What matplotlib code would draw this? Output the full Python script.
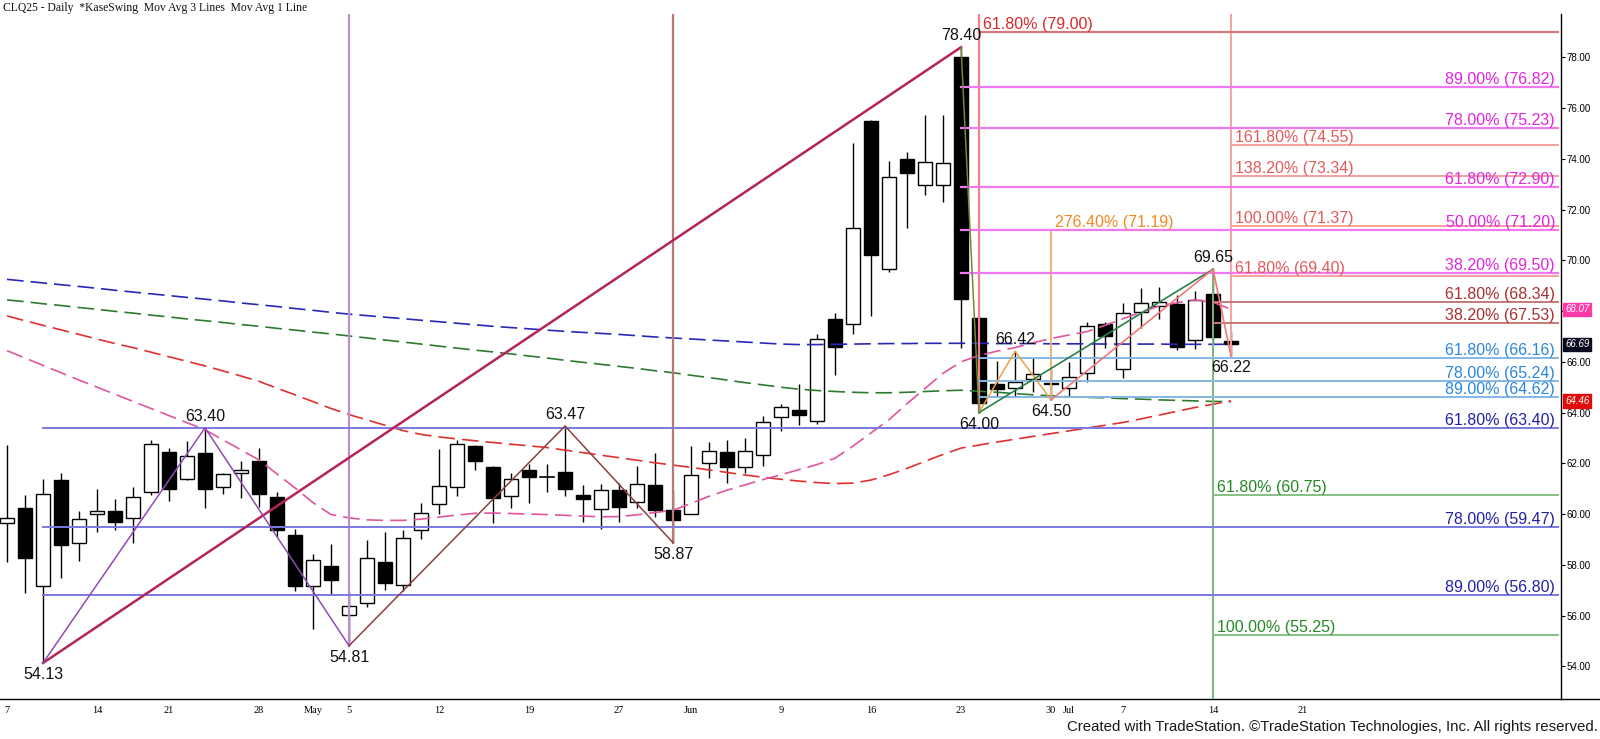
import numpy as np
import matplotlib
matplotlib.use("Agg")
import matplotlib.pyplot as plt
from matplotlib.lines import Line2D

plt.rcParams['lines.scale_dashes'] = False

# daily bars, CLQ25 (Apr 7 .. Jul 15)
dates = ["Apr 7", "Apr 8", "Apr 9", "Apr 10", "Apr 11", "Apr 14", "Apr 15", "Apr 16", "Apr 17",
         "Apr 21", "Apr 22", "Apr 23", "Apr 24", "Apr 25", "Apr 28", "Apr 29", "Apr 30", "May 1",
         "May 2", "May 5", "May 6", "May 7", "May 8", "May 9", "May 12", "May 13", "May 14",
         "May 15", "May 16", "May 19", "May 20", "May 21", "May 22", "May 23", "May 27", "May 28",
         "May 29", "May 30", "Jun 2", "Jun 3", "Jun 4", "Jun 5", "Jun 6", "Jun 9", "Jun 10",
         "Jun 11", "Jun 12", "Jun 13", "Jun 16", "Jun 17", "Jun 18", "Jun 19", "Jun 20", "Jun 23",
         "Jun 24", "Jun 25", "Jun 26", "Jun 27", "Jun 30", "Jul 1", "Jul 2", "Jul 3", "Jul 7",
         "Jul 8", "Jul 9", "Jul 10", "Jul 11", "Jul 14", "Jul 15"]
opens = [59.66, 60.23, 57.16, 61.34, 58.85, 60.01, 60.13, 59.85, 60.85, 62.43, 61.39, 62.39,
         61.05, 61.61, 62.09, 60.69, 59.19, 57.16, 57.95, 56.01, 56.48, 58.11, 57.20, 59.38,
         60.41, 61.05, 62.69, 61.84, 60.71, 61.73, 61.46, 61.64, 60.77, 60.21, 60.93, 60.49,
         61.16, 60.17, 60.01, 62.00, 62.45, 61.84, 62.32, 63.82, 64.11, 63.66, 67.68, 67.49,
         75.49, 69.65, 73.98, 72.96, 72.96, 78.01, 67.71, 65.11, 64.96, 65.31, 65.18, 64.96,
         65.55, 67.48, 65.72, 67.96, 68.20, 68.27, 66.86, 68.67, 66.83]
highs = [62.73, 60.77, 61.38, 61.60, 60.11, 60.98, 60.61, 61.07, 62.91, 62.59, 62.88, 63.40,
         61.60, 62.09, 62.59, 60.86, 59.42, 58.43, 58.80, 56.93, 58.96, 59.31, 59.38, 60.45,
         62.57, 62.92, 62.73, 61.89, 61.61, 61.98, 61.97, 63.47, 61.16, 61.19, 61.23, 61.88,
         62.41, 60.94, 62.67, 62.83, 62.91, 62.99, 63.88, 64.35, 65.11, 67.10, 67.91, 74.61,
         75.55, 73.90, 74.27, 75.73, 75.73, 78.40, 67.80, 66.03, 66.42, 66.14, 65.70, 65.98,
         67.56, 67.56, 68.31, 68.92, 68.94, 68.63, 68.79, 69.65, 67.16]
lows = [58.10, 56.88, 54.13, 57.47, 58.16, 59.29, 59.39, 58.85, 60.74, 60.52, 61.36, 60.24,
        60.79, 60.65, 60.28, 59.09, 56.95, 55.45, 56.79, 54.81, 56.35, 57.01, 56.95, 59.01,
        60.00, 60.71, 61.75, 59.64, 60.24, 60.45, 60.87, 60.71, 59.68, 59.41, 59.68, 60.25,
        59.88, 58.87, 60.01, 61.44, 61.23, 61.60, 61.91, 63.28, 63.51, 63.53, 65.48, 67.08,
        67.82, 69.55, 71.29, 72.59, 72.31, 66.56, 64.00, 64.62, 64.62, 64.82, 64.50, 64.66,
        65.22, 66.53, 65.37, 67.32, 67.68, 66.47, 66.49, 66.74, 66.22]
closes = [59.85, 58.27, 60.81, 58.77, 59.82, 60.13, 59.68, 60.69, 62.75, 60.99, 62.28, 60.99,
          61.56, 61.72, 60.79, 59.37, 57.16, 58.19, 57.42, 56.39, 58.27, 57.30, 59.06, 60.04,
          61.09, 62.75, 62.10, 60.64, 61.40, 61.47, 61.48, 60.99, 60.60, 60.93, 60.28, 61.20,
          60.16, 59.78, 61.52, 62.47, 61.87, 62.47, 63.61, 64.22, 63.90, 66.89, 66.60, 71.26,
          70.21, 73.27, 73.45, 73.86, 73.82, 68.48, 64.36, 64.92, 65.22, 65.51, 65.11, 65.41,
          67.42, 67.00, 67.91, 68.31, 68.37, 66.57, 68.45, 66.97, 66.69]

# moving averages (one value per bar)
ma_blue = [69.25, 69.18, 69.11, 69.04, 68.97, 68.90, 68.82, 68.75, 68.68, 68.61, 68.54, 68.47,
           68.40, 68.32, 68.25, 68.18, 68.10, 68.03, 67.95, 67.88, 67.82, 67.76, 67.70, 67.64,
           67.58, 67.52, 67.46, 67.40, 67.35, 67.30, 67.25, 67.20, 67.16, 67.12, 67.08, 67.03,
           66.98, 66.94, 66.90, 66.86, 66.82, 66.78, 66.74, 66.70, 66.68, 66.68, 66.69, 66.70,
           66.71, 66.72, 66.72, 66.73, 66.73, 66.73, 66.73, 66.72, 66.72, 66.72, 66.71, 66.71,
           66.71, 66.70, 66.70, 66.70, 66.70, 66.69, 66.69, 66.69, 66.69]
ma_green = [68.44, 68.37, 68.29, 68.22, 68.14, 68.07, 67.99, 67.92, 67.84, 67.77, 67.69, 67.62,
            67.55, 67.47, 67.40, 67.32, 67.25, 67.17, 67.10, 67.02, 66.94, 66.86, 66.78, 66.70,
            66.62, 66.54, 66.46, 66.39, 66.31, 66.23, 66.15, 66.06, 65.98, 65.90, 65.82, 65.74,
            65.65, 65.57, 65.47, 65.38, 65.28, 65.18, 65.09, 65.00, 64.92, 64.87, 64.83, 64.80,
            64.78, 64.78, 64.80, 64.83, 64.86, 64.88, 64.84, 64.80, 64.75, 64.70, 64.66, 64.62,
            64.60, 64.58, 64.55, 64.53, 64.50, 64.48, 64.46, 64.44, 64.43]
ma_red = [67.81, 67.62, 67.44, 67.26, 67.08, 66.90, 66.72, 66.56, 66.38, 66.20, 66.02, 65.84,
          65.64, 65.44, 65.23, 64.96, 64.70, 64.43, 64.16, 63.92, 63.71, 63.50, 63.29, 63.14,
          63.04, 62.96, 62.89, 62.82, 62.75, 62.69, 62.62, 62.52, 62.42, 62.32, 62.22, 62.12,
          62.02, 61.93, 61.84, 61.74, 61.64, 61.54, 61.45, 61.37, 61.30, 61.24, 61.20, 61.22,
          61.34, 61.55, 61.80, 62.08, 62.35, 62.60, 62.72, 62.84, 62.95, 63.06, 63.17, 63.28,
          63.39, 63.50, 63.61, 63.75, 63.90, 64.05, 64.20, 64.33, 64.46]
ma_pink = [66.44, 66.15, 65.86, 65.57, 65.28, 65.00, 64.72, 64.44, 64.16, 63.88, 63.60, 63.32,
           62.92, 62.53, 62.13, 61.58, 61.03, 60.45, 59.98, 59.85, 59.77, 59.75, 59.75, 59.80,
           59.88, 59.96, 60.03, 60.04, 60.02, 60.00, 59.98, 59.95, 59.92, 59.89, 59.90, 59.97,
           60.06, 60.15, 60.42, 60.70, 60.94, 61.15, 61.36, 61.55, 61.75, 61.95, 62.20, 62.68,
           63.20, 63.72, 64.35, 64.95, 65.55, 66.00, 66.25, 66.42, 66.56, 66.75, 66.92, 67.06,
           67.19, 67.44, 67.70, 67.95, 68.20, 68.33, 68.44, 68.35, 68.07]

# swing highs / lows (bar index, price)
swing_idx = [2, 11, 19, 31, 37, 53, 54, 56, 58, 67, 68]
swing_px = [54.13, 63.40, 54.81, 63.47, 58.87, 78.40, 64.00, 66.42, 64.50, 69.65, 66.22]
swing_up = [False, True, False, True, False, True, False, True, False, True, False]

# x axis labels (bar index -> text)
tick_idx = [0, 5, 9, 14, 17, 19, 24, 29, 34, 38, 43, 48, 53, 58, 59, 62, 67, 72]
tick_txt = ["7", "14", "21", "28", "May", "5", "12", "19", "27", "Jun", "9", "16", "23",
            "30", "Jul", "7", "14", "21"]

# fib levels: (label, price)
blue_lv = [("61.80% (63.40)", 63.40), ("78.00% (59.47)", 59.47), ("89.00% (56.80)", 56.80)]
ltblue_lv = [("61.80% (66.16)", 66.16), ("78.00% (65.24)", 65.24), ("89.00% (64.62)", 64.62)]
mag_lv = [("89.00% (76.82)", 76.82), ("78.00% (75.23)", 75.23), ("61.80% (72.90)", 72.90),
          ("50.00% (71.20)", 71.20), ("38.20% (69.50)", 69.50)]
dred_lv = [("61.80% (68.34)", 68.34), ("38.20% (67.53)", 67.53)]
salmon_lv = [("161.80% (74.55)", 74.55), ("138.20% (73.34)", 73.34),
             ("100.00% (71.37)", 71.37), ("61.80% (69.40)", 69.40)]
green_lv = [("61.80% (60.75)", 60.75), ("100.00% (55.25)", 55.25)]

W, H = 1600, 739
fig = plt.figure(figsize=(16, 7.39), dpi=100)
ax = fig.add_axes([0, 40 / H, 1561 / W, 685 / H])
X0, X1 = -0.389, 86.33
ax.set_xlim(X0, X1)
ax.set_ylim(52.71, 79.71)
XR = 86.17      # end of the horizontal study lines
XT = 86.0       # right edge of right-hand labels

for s in ["top", "left"]:
    ax.spines[s].set_visible(False)
ax.spines["right"].set_linewidth(1)
ax.spines["bottom"].set_linewidth(1)
fig.add_artist(Line2D([1561 / W, 1], [40 / H, 40 / H], color="black", lw=1))

# candles
bw = 0.78
for i in range(len(opens)):
    o, h, l, c = opens[i], highs[i], lows[i], closes[i]
    ax.plot([i, i], [l, h], color="black", lw=1, zorder=2, solid_capstyle="butt")
    if abs(c - o) < 0.03:
        ax.plot([i - bw / 2, i + bw / 2], [c, c], color="black", lw=1.2, zorder=2)
        continue
    fc = "white" if c > o else "black"
    ax.add_patch(plt.Rectangle((i - bw / 2, min(o, c)), bw, abs(c - o), facecolor=fc,
                               edgecolor="black", lw=1, zorder=2.1))

xs = np.arange(len(ma_blue))
for vals, col in [(ma_blue, "#2828b8"), (ma_green, "#2f7a2f"), (ma_red, "#e03030"),
                  (ma_pink, "#e0559e")]:
    ax.plot(xs, vals, color=col, lw=1.2, dashes=(12, 5), zorder=3)

lab_kw = dict(fontsize=11.5, family="Liberation Sans", zorder=6)


def right_levels(levels, start, lcol, tcol, lw=1.4):
    for txt, p in levels:
        ax.plot([start, XR], [p, p], color=lcol, lw=lw, zorder=3)
        ax.text(XT, p, txt, ha="right", va="bottom", color=tcol, **lab_kw)


def left_levels(levels, start, lcol, tcol, lw=1.4):
    for txt, p in levels:
        ax.plot([start, XR], [p, p], color=lcol, lw=lw, zorder=3)
        ax.text(start + 0.2, p, txt, ha="left", va="bottom", color=tcol, **lab_kw)


TOP = 79.71
# vertical markers
ax.plot([19, 19], [54.81, TOP], color="#c08ccc", lw=1.6, zorder=3)
ax.plot([37, 37], [58.87, TOP], color="#b87878", lw=1.6, zorder=3)
ax.plot([54, 54], [64.00, TOP], color="#f08484", lw=1.6, zorder=3)
ax.plot([68, 68], [66.22, TOP], color="#f4a4a4", lw=1.4, zorder=3)
ax.plot([58, 58], [64.50, 71.19], color="#f4b070", lw=1.4, zorder=3)
ax.plot([67, 67], [52.71, 69.65], color="#78b878", lw=1.4, zorder=3)

# fib level lines with labels
ax.plot([58, XR], [71.19, 71.19], color="#f4b070", lw=1.4, zorder=3)
ax.text(58.2, 71.19, "276.40% (71.19)", ha="left", va="bottom", color="#f08a20", **lab_kw)
ax.plot([54, XR], [79.00, 79.00], color="#d87878", lw=1.6, zorder=3)
ax.text(54.2, 79.00, "61.80% (79.00)", ha="left", va="bottom", color="#d82828", **lab_kw)
right_levels(blue_lv, 2, "#7a7ae0", "#2222a8")
right_levels(ltblue_lv, 54, "#84b8e4", "#2b86dc")
right_levels(mag_lv, 53, "#f078f0", "#e424e0", lw=1.6)
right_levels(dred_lv, 67, "#c47a7a", "#a83030")
left_levels(salmon_lv, 68, "#f4a0a0", "#e45a5a")
left_levels(green_lv, 67, "#84c084", "#248a24")

# swing lines
ax.plot([2, 53], [54.13, 78.40], color="#b4245a", lw=1.8, zorder=4)
ax.plot([2, 11, 19], [54.13, 63.40, 54.81], color="#9448b8", lw=1.1, zorder=4)
ax.plot([19, 31, 37], [54.81, 63.47, 58.87], color="#8c4040", lw=1.1, zorder=4)
ax.plot([53, 54], [78.40, 64.00], color="#708a38", lw=1.1, zorder=4)
ax.plot([54, 56, 58], [64.00, 66.42, 64.50], color="#f0a040", lw=1.1, zorder=4)
ax.plot([54, 67], [64.00, 69.65], color="#2a8048", lw=1.2, zorder=4)
ax.plot([58, 67, 68], [64.50, 69.65, 66.22], color="#f07878", lw=1.2, zorder=4)

for i, p, up in zip(swing_idx, swing_px, swing_up):
    dy = 3 if up else -3
    ax.annotate(f"{p:.2f}", (i, p), xytext=(0, dy), textcoords="offset points",
                ha="center", va="bottom" if up else "top", color="#111111", **lab_kw)

# axes ticks
ax.yaxis.tick_right()
ax.set_yticks(np.arange(54, 79, 2))
ax.set_yticklabels([f"{v:.2f}" for v in np.arange(54, 79, 2)])
ax.tick_params(axis="y", length=3, pad=1, labelsize=7, width=0.8)
ax.set_xticks(tick_idx)
ax.set_xticklabels(tick_txt)
ax.tick_params(axis="x", length=0, pad=5, labelsize=7.5)
for t in ax.get_xticklabels():
    t.set_family("Liberation Serif")
for t in ax.get_yticklabels():
    t.set_family("Liberation Sans")

# last-value tags on the price axis
for val, bg in [(68.07, "#ff3aa8"), (66.69, "#0a0a1e"), (64.46, "#e00a0a")]:
    ax.annotate(f"{val:.2f}", (1.0, val), xycoords=("axes fraction", "data"),
                xytext=(3, 0), textcoords="offset points", ha="left", va="center",
                fontsize=7, color="white", style="italic", family="Liberation Sans",
                annotation_clip=False, zorder=8,
                bbox=dict(boxstyle="square,pad=0.18", fc=bg, ec=bg))

fig.text(0.002, 1 - 8 / H, "CLQ25 - Daily  *KaseSwing  Mov Avg 3 Lines  Mov Avg 1 Line",
         family="Liberation Serif", fontsize=8.4, va="center", ha="left", color="#111111")
fig.text(1598 / W, 1 - 727 / H,
         "Created with TradeStation. \u00a9TradeStation Technologies, Inc. All rights reserved.",
         family="Liberation Sans", fontsize=10.8, va="center", ha="right", color="#1a1a1a")

fig.savefig("out.png", dpi=100)
